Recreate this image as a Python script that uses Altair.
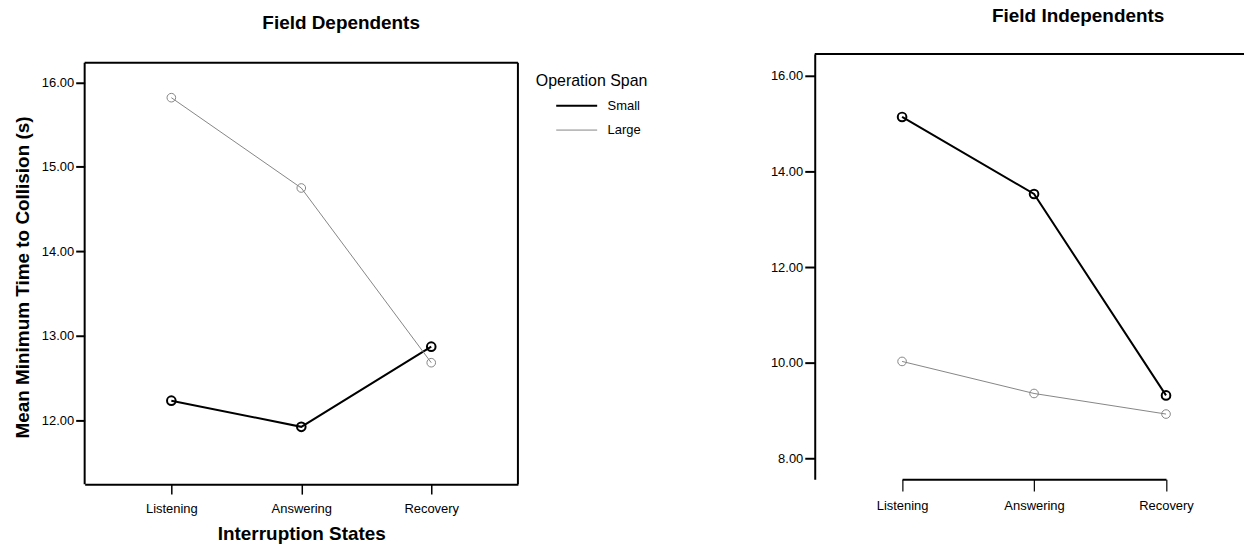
import altair as alt
import pandas as pd

# Interruption states on the x axis, operation-span groups as series
states = ["Listening", "Answering", "Recovery"]
spans = ["Small", "Large"]

# Mean minimum time to collision (s)
dependent_small = [12.23, 11.92, 12.87]
dependent_large = [15.82, 14.75, 12.68]
independent_small = [15.14, 13.53, 9.32]
independent_large = [10.03, 9.36, 8.93]

dependent_ticks = [12, 13, 14, 15, 16]
independent_ticks = [8, 10, 12, 14, 16]

FONT = "Liberation Sans"

LEFT_W, LEFT_H = 435, 432
RIGHT_W, RIGHT_H = 431, 427
LEFT_FRAME_TOP = 9  # left box starts a little below the shared top


def long_table(small, large):
    return pd.DataFrame({
        "state": states * 2,
        "span": ["Small"] * len(states) + ["Large"] * len(states),
        "time": small + large,
    })


dep = long_table(dependent_small, dependent_large)
ind = long_table(independent_small, independent_large)

span_color = alt.Scale(domain=spans, range=["#000000", "#858585"])
span_width = alt.Scale(domain=spans, range=[2.0, 1.0])

# sample line drawn as a custom path, wider than the symbol size it is laid out with
span_legend = alt.Legend(
    title="Operation Span",
    orient="none",
    legendX=453,
    legendY=19,
    padding=0,
    titleFontSize=16,
    titleFontWeight="normal",
    titleColor="black",
    titlePadding=-1,
    labelFontSize=13,
    labelColor="black",
    symbolType="M-1.24,0H1.24",
    symbolSize=1100,
    symbolOffset=23,
    labelOffset=13,
    rowPadding=0,
)

label_style = dict(labelFont=FONT, labelFontSize=13, labelColor="black",
                   tickColor="black", grid=False)
title_style = dict(titleFont=FONT, titleFontSize=19, titleFontWeight="bold",
                   titleColor="black")


def panel_title(text, offset, dx):
    return alt.TitleParams(text=text, font=FONT, fontSize=19, fontWeight="bold",
                           color="black", anchor="middle", dx=dx, offset=offset)


def edge(x, y, x2=None, y2=None):
    enc = dict(x=alt.value(x), y=alt.value(y))
    if x2 is not None:
        enc["x2"] = alt.value(x2)
    if y2 is not None:
        enc["y2"] = alt.value(y2)
    return alt.Chart(pd.DataFrame({"edge": [0]})).mark_rule(
        color="black", strokeWidth=2
    ).encode(**enc)


# ---- Field dependents (left) ----
x_left = alt.X(
    "state:N", sort=states,
    scale=alt.Scale(type="point", padding=0.667),
    axis=alt.Axis(title="Interruption States", labelAngle=0, domain=True,
                  domainColor="black", domainWidth=2,
                  tickSize=10, tickWidth=1.5, labelPadding=8,
                  titleY=50, titleBaseline="middle",
                  **label_style, **title_style),
)
y_left = alt.Y(
    "time:Q",
    scale=alt.Scale(domain=[11.241, 16.339], nice=False, zero=False),
    axis=alt.Axis(title="Mean Minimum Time to Collision (s)",
                  values=dependent_ticks, format=".2f", domain=False,
                  tickSize=9, tickWidth=2, labelPadding=2,
                  titleX=-62, titleY=224, titleAngle=270,
                  titleBaseline="middle", titleAlign="center",
                  **label_style, **title_style),
)

left_base = alt.Chart(dep).encode(
    x=x_left,
    y=y_left,
    color=alt.Color("span:N", sort=spans, scale=span_color, legend=span_legend),
    strokeWidth=alt.StrokeWidth("span:N", sort=spans, scale=span_width,
                                legend=span_legend),
)
left = alt.layer(
    left_base.mark_line(),
    left_base.mark_point(shape="circle", filled=False, size=75, opacity=1),
    edge(0, LEFT_FRAME_TOP, x2=LEFT_W),
    edge(0, LEFT_FRAME_TOP, y2=LEFT_H),
    edge(LEFT_W, LEFT_FRAME_TOP, y2=LEFT_H),
).properties(
    width=LEFT_W,
    height=LEFT_H,
    title=panel_title("Field Dependents", 21, 40),
    view=alt.ViewBackground(stroke="transparent", fill="white"),
)

# ---- Field independents (right) ----
x_right = alt.X(
    "state:N", sort=states,
    scale=alt.Scale(type="point", padding=0, range=[87.7, 352.7]),
    axis=alt.Axis(title=None, labelAngle=0, domain=True, domainColor="black",
                  domainWidth=2, tickSize=12, tickWidth=1.2, labelPadding=8,
                  **label_style),
)
y_right = alt.Y(
    "time:Q",
    scale=alt.Scale(domain=[7.569, 16.458], nice=False, zero=False),
    axis=alt.Axis(title=None, values=independent_ticks, format=".2f",
                  domain=True, domainColor="black", domainWidth=2,
                  tickSize=10, tickWidth=2, labelPadding=2, **label_style),
)

right_base = alt.Chart(ind).encode(
    x=x_right,
    y=y_right,
    color=alt.Color("span:N", sort=spans, scale=span_color, legend=None),
    strokeWidth=alt.StrokeWidth("span:N", sort=spans, scale=span_width,
                                legend=None),
)

right = alt.layer(
    right_base.mark_line(),
    right_base.mark_point(shape="circle", filled=False, size=75, opacity=1),
    edge(0, 0, x2=RIGHT_W),
).properties(
    width=RIGHT_W,
    height=RIGHT_H,
    title=panel_title("Field Independents", 27, 49),
    view=alt.ViewBackground(stroke="transparent", fill="white"),
)

chart = alt.hconcat(left, right, spacing=120).resolve_scale(
    x="independent", y="independent", color="independent",
    strokeWidth="independent",
).resolve_legend(
    color="independent", strokeWidth="independent",
).properties(
    padding={"left": 13, "top": 5, "right": 0, "bottom": 0},
    background="white",
).configure(font=FONT)

chart.save("out.html", embed_options={"renderer": "svg", "actions": False})
